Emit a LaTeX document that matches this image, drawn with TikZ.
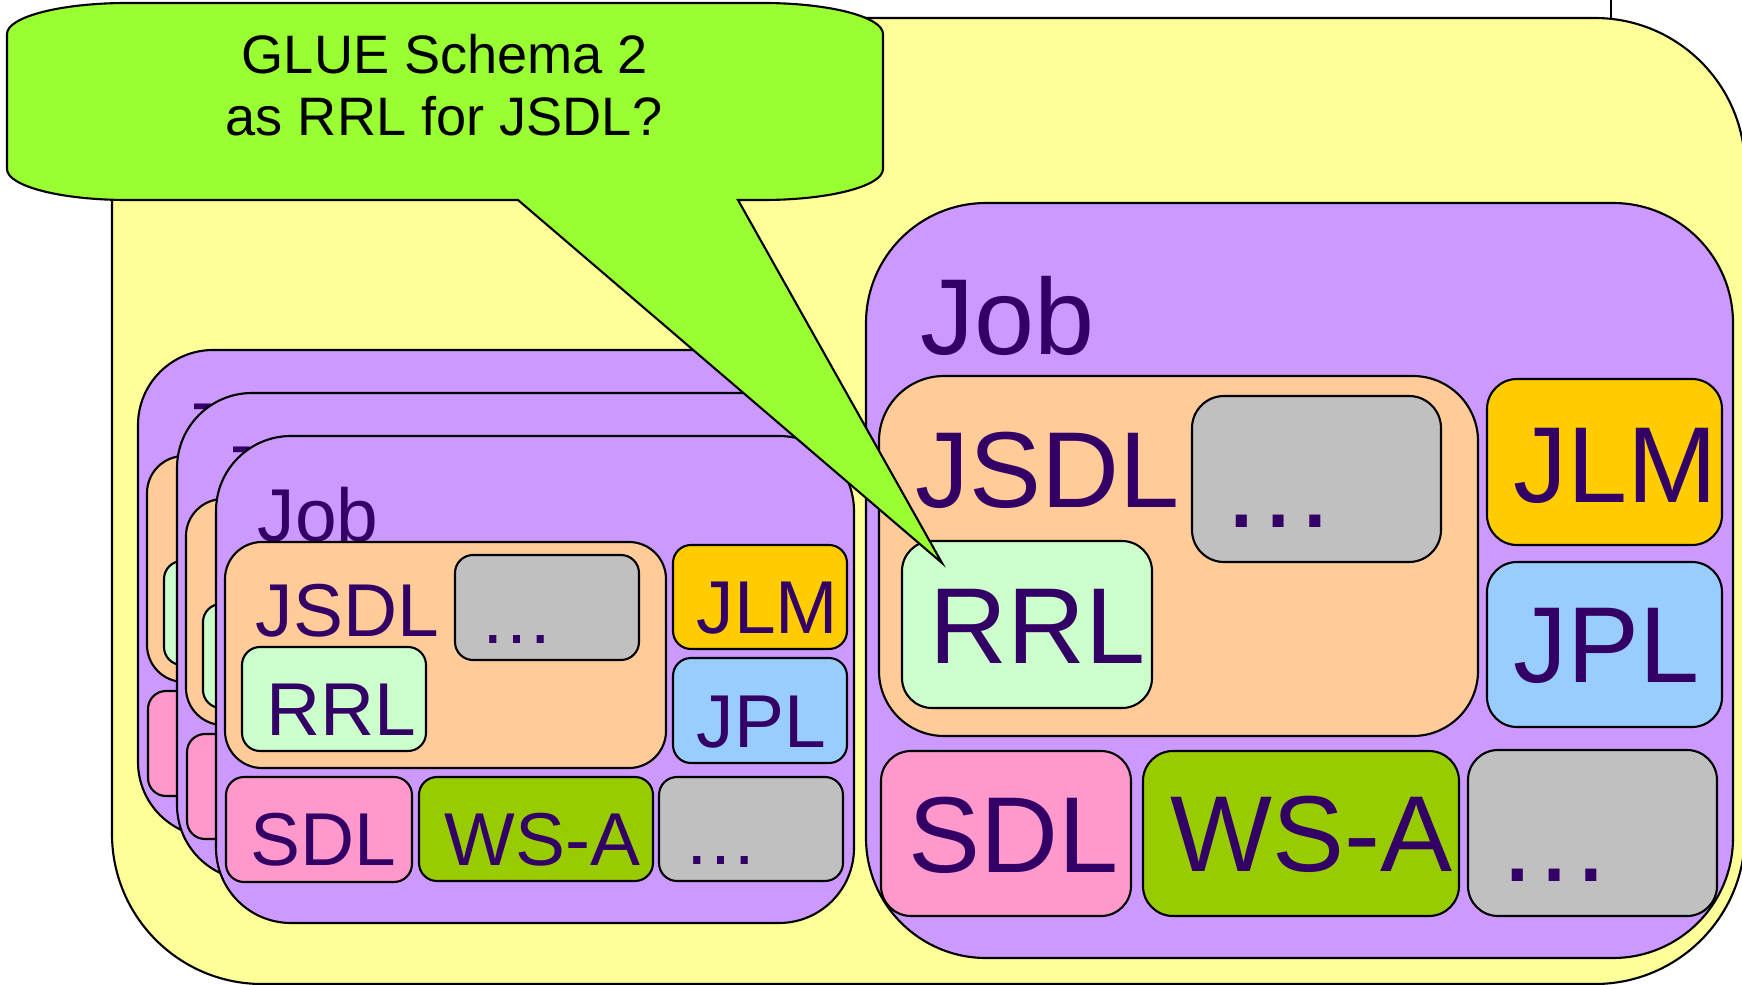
\documentclass[tikz,border=0pt]{standalone}
\usepackage{fontspec}
\setmainfont{Liberation Sans}

\definecolor{slideyellow}{HTML}{FFFF99}
\definecolor{calloutgreen}{HTML}{99FF33}
\definecolor{jobpurple}{HTML}{CC99FF}
\definecolor{jsdlorange}{HTML}{FFCC99}
\definecolor{othergray}{HTML}{C0C0C0}
\definecolor{rrlgreen}{HTML}{CCFFCC}
\definecolor{jlmgold}{HTML}{FFCC00}
\definecolor{jplblue}{HTML}{99CCFF}
\definecolor{sdlpink}{HTML}{FF99CC}
\definecolor{wsagreen}{HTML}{99CC00}
\definecolor{labelink}{HTML}{330066}

\tikzset{
  outline/.style={draw=black, line width=0.6pt},
  biglabel/.style={anchor=base west, inner sep=0pt, text=labelink,
    font=\fontsize{30.7}{30.7}\selectfont},
  bigdots/.style={anchor=base west, inner sep=0pt, text=labelink,
    font=\fontsize{33}{33}\selectfont},
  smalllabel/.style={anchor=base west, inner sep=0pt, text=labelink,
    font=\fontsize{21.3}{21.3}\selectfont},
  callouttext/.style={anchor=base, inner sep=0pt, text=black,
    font=\fontsize{15.4}{15.4}\selectfont},
}

% boxes of a small Job panel, with its title
\newcommand\smalljobshapes{%
  \path[outline, fill=jobpurple, rounded corners=0.75cm] (216,436) rectangle (854,923);
  \node[smalllabel] (job) at (257,541) {Job};
  \path[outline, fill=jsdlorange, rounded corners=0.37cm] (225,542) rectangle (666,768);
  \path[outline, fill=othergray, rounded corners=0.18cm] (455,555) rectangle (639,660);
  \path[outline, fill=rrlgreen, rounded corners=0.18cm] (242,647) rectangle (426,751);
  \path[outline, fill=jlmgold, rounded corners=0.18cm] (673,545) rectangle (847,649);
  \path[outline, fill=jplblue, rounded corners=0.18cm] (673,658) rectangle (847,763);
  \path[outline, fill=sdlpink, rounded corners=0.18cm] (226,777) rectangle (412,882);
  \path[outline, fill=wsagreen, rounded corners=0.18cm] (419,777) rectangle (653,881);
  \path[outline, fill=othergray, rounded corners=0.18cm] (659,777) rectangle (843,881);
}
% labels inside the boxes of a small Job panel
\newcommand\smalljoblabels{%
  \node[smalllabel] (jsdl) at (255,636) {JSDL};
  \node[smalllabel] (jsdlmore) at (479,643) {…};
  \node[smalllabel] (rrl) at (266,735) {RRL};
  \node[smalllabel] (jlm) at (696,633) {JLM};
  \node[smalllabel] (jpl) at (696,747) {JPL};
  \node[smalllabel] (sdl) at (250,865) {SDL};
  \node[smalllabel] (wsa) at (444,865) {WS-A};
  \node[smalllabel] (more) at (683,864) {…};
}

\begin{document}
\begin{tikzpicture}[x=0.01cm, y=-0.01cm]
\useasboundingbox (0,0) rectangle (1742,985);
\clip (0,0) rectangle (1742,985);
\fill[white] (0,0) rectangle (1742,985);

% frame edge above the slide area
\draw[line width=0.6pt] (1611,0) -- (1611,18);

% yellow background area
\path[outline, fill=slideyellow, rounded corners=1.5cm] (112,18) rectangle (1745,984);

% stack of small Job panels, back to front
\begin{scope}[shift={(-78,-86)}, name prefix=back-]
  \smalljobshapes
\end{scope}
\begin{scope}[shift={(-39,-43)}, name prefix=mid-]
  \smalljobshapes
\end{scope}
\begin{scope}[name prefix=front-]
  \smalljobshapes
  \smalljoblabels
\end{scope}

% large Job panel
\path[outline, fill=jobpurple, rounded corners=1.2cm] (866,203) rectangle (1733,958);
\node[biglabel] (bigjob) at (920,354) {Job};
\path[outline, fill=jsdlorange, rounded corners=0.65cm] (879,376) rectangle (1478,736);
\node[biglabel] (bigjsdl) at (915,507) {JSDL};
\path[outline, fill=othergray, rounded corners=0.32cm] (1192,396) rectangle (1441,562);
\node[bigdots] (bigjsdlmore) at (1220,527) {…};
\path[outline, fill=rrlgreen, rounded corners=0.3cm] (902,541) rectangle (1152,708);
\node[biglabel] (bigrrl) at (929,663) {RRL};
\path[outline, fill=jlmgold, rounded corners=0.3cm] (1487,379) rectangle (1722,545);
\node[biglabel] (bigjlm) at (1513,502) {JLM};
\path[outline, fill=jplblue, rounded corners=0.3cm] (1487,562) rectangle (1722,727);
\node[biglabel] (bigjpl) at (1513,682) {JPL};
\path[outline, fill=sdlpink, rounded corners=0.3cm] (881,751) rectangle (1131,916);
\node[biglabel] (bigsdl) at (908,872) {SDL};
\path[outline, fill=wsagreen, rounded corners=0.3cm] (1143,751) rectangle (1459,916);
\node[biglabel] (bigwsa) at (1170,871) {WS-A};
\path[outline, fill=othergray, rounded corners=0.3cm] (1468,750) rectangle (1717,916);
\node[bigdots] (bigmore) at (1496,881) {…};

% speech-bubble callout pointing at the RRL box
\coordinate (calltip) at (942,563);
\path[outline, fill=calloutgreen, line join=miter]
  (7,34) -- (7,169)
  .. controls (7,186.1) and (60.7,200) .. (127,200)
  -- (518,200) -- (calltip) -- (738,200) -- (763,200)
  .. controls (829.3,200) and (883,186.1) .. (883,169)
  -- (883,34)
  .. controls (883,16.9) and (829.3,3) .. (763,3)
  -- (127,3)
  .. controls (60.7,3) and (7,16.9) .. (7,34) -- cycle;
\node[callouttext] (calloutline1) at (445,74) {GLUE Schema 2};
\node[callouttext] (calloutline2) at (444,136) {as RRL for JSDL?};
\end{tikzpicture}
\end{document}
